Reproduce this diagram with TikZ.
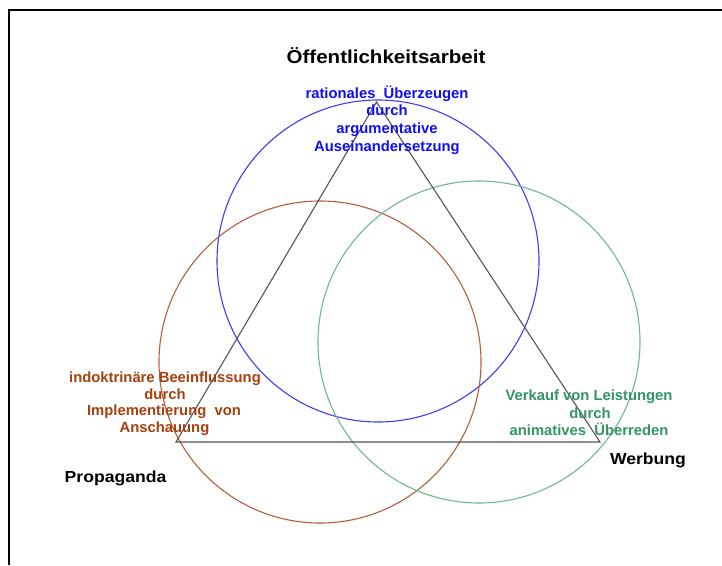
\documentclass[tikz,border=0pt]{standalone}
\usepackage{fontspec}
\setmainfont{Liberation Sans}
\newfontfamily\widefont[FakeStretch=1.1]{Liberation Sans}
\definecolor{bluecirc}{RGB}{60,60,250}
\definecolor{bluetext}{RGB}{15,15,245}
\definecolor{browncirc}{RGB}{180,95,60}
\definecolor{browntext}{RGB}{165,65,15}
\definecolor{greencirc}{RGB}{110,185,145}
\definecolor{greentext}{RGB}{50,150,100}
\definecolor{trigray}{RGB}{85,85,85}
\begin{document}
\begin{tikzpicture}[x=1pt,y=-1pt,
  lab/.style={inner sep=0pt,anchor=base,font=\fontsize{14.8}{17}\selectfont\bfseries},
  head/.style={inner sep=0pt,anchor=base,font=\widefont\fontsize{16}{19}\selectfont\bfseries},
  circ/.style={line width=1.1pt}]
\useasboundingbox (0,0) rectangle (722,565);
\fill[white] (0,0) rectangle (722,565);
\draw[line width=2.2pt] (9,565) -- (9,10) -- (722,10);
% circles
\coordinate (cb) at (378,261);
\coordinate (cr) at (320,362);
\coordinate (cg) at (479,342);
\draw[circ,bluecirc] (cb) circle[radius=161];
\draw[circ,browncirc] (cr) circle[radius=161];
\draw[circ,greencirc] (cg) circle[radius=161];
% triangle
\coordinate (A) at (376.5,102);
\coordinate (B) at (176,442);
\coordinate (C) at (600,442);
\draw[trigray,line width=1.1pt] (A) -- (B) -- (C) -- cycle;
% headings
\node[inner sep=0pt,anchor=base,font=\widefont\fontsize{18.7}{22}\selectfont\bfseries] (t1) at (386,63.5) {Öffentlichkeitsarbeit};
\node[head] (t2) at (115.6,482.7) {Propaganda};
\node[head] (t3) at (648,464) {Werbung};
% blue text
\node[lab,bluetext] (b1) at (387,98.3) {rationales\ \ Überzeugen};
\node[lab,bluetext] (b2) at (387,115.5) {durch};
\node[lab,bluetext] (b3) at (387,133.3) {argumentative};
\node[lab,bluetext] (b4) at (387,151) {Auseinandersetzung};
% brown text
\node[lab,browntext] (r1) at (165,382.3) {indoktrinäre Beeinflussung};
\node[lab,browntext] (r2) at (165,399) {durch};
\node[lab,browntext] (r3) at (164,415.5) {Implementierung\ \ von};
\node[lab,browntext] (r4) at (164.5,432) {Anschauung};
% green text
\node[lab,greentext] (g1) at (589,400) {Verkauf von Leistungen};
\node[lab,greentext] (g2) at (590,418.3) {durch};
\node[lab,greentext] (g3) at (589,435.7) {animatives\ \ Überreden};
\end{tikzpicture}
\end{document}
